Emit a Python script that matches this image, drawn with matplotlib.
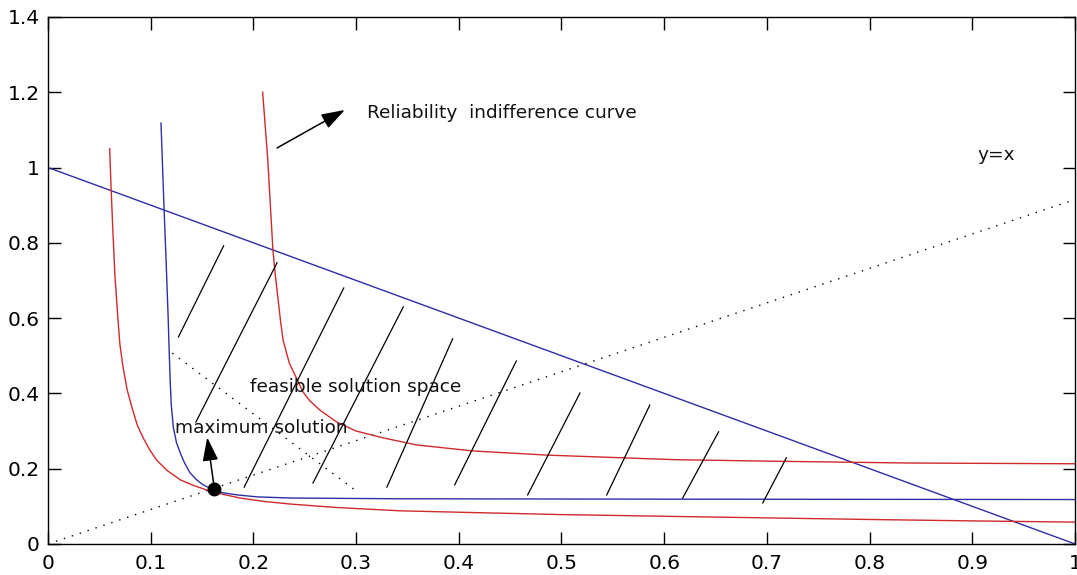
import matplotlib
matplotlib.use("Agg")
import matplotlib.pyplot as plt
from matplotlib.ticker import FuncFormatter

# straight budget line
budget_x = [0.0, 1.0]
budget_y = [1.0, 0.0]

# y = x reference (dotted)
diag_x = [0.0, 1.0]
diag_y = [0.0, 0.915]

# short descending dotted line
cross_x = [0.121, 0.299]
cross_y = [0.507, 0.143]

# left red indifference curve
red1_x = [0.060, 0.0615, 0.063, 0.065, 0.068, 0.070, 0.073, 0.077, 0.082,
          0.087, 0.093, 0.099, 0.106, 0.116, 0.129, 0.142, 0.155, 0.170,
          0.187, 0.210, 0.236, 0.280, 0.343, 0.420, 0.500, 0.635, 0.800,
          0.907, 1.000]
red1_y = [1.050, 0.940, 0.840, 0.720, 0.600, 0.530, 0.470, 0.410, 0.360,
          0.315, 0.280, 0.250, 0.222, 0.195, 0.170, 0.155, 0.143, 0.132,
          0.122, 0.113, 0.106, 0.097, 0.088, 0.083, 0.078, 0.072, 0.065,
          0.061, 0.058]

# blue curve
blue_x = [0.110, 0.113, 0.115, 0.117, 0.118, 0.119, 0.120, 0.122, 0.125,
          0.129, 0.133, 0.138, 0.144, 0.151, 0.160, 0.170, 0.185, 0.204,
          0.236, 0.343, 0.600, 1.000]
blue_y = [1.118, 0.890, 0.750, 0.600, 0.510, 0.430, 0.370, 0.310, 0.270,
          0.240, 0.215, 0.190, 0.172, 0.157, 0.145, 0.136, 0.130, 0.125,
          0.122, 0.120, 0.119, 0.118]

# right red indifference curve
red2_x = [0.209, 0.2115, 0.214, 0.2165, 0.219, 0.2215, 0.224, 0.2265, 0.229,
          0.235, 0.242, 0.248, 0.255, 0.265, 0.281, 0.300, 0.326, 0.359,
          0.414, 0.486, 0.609, 0.700, 0.839, 1.000]
red2_y = [1.200, 1.110, 1.020, 0.900, 0.780, 0.710, 0.650, 0.590, 0.540,
          0.480, 0.440, 0.405, 0.380, 0.355, 0.324, 0.300, 0.282, 0.263,
          0.247, 0.236, 0.224, 0.220, 0.215, 0.213]

# hatch segments of the feasible region (top end, bottom end)
hatch_x0 = [0.171, 0.223, 0.288, 0.346, 0.394, 0.456, 0.518, 0.586, 0.653, 0.719]
hatch_y0 = [0.792, 0.747, 0.680, 0.630, 0.545, 0.486, 0.401, 0.369, 0.298, 0.229]
hatch_x1 = [0.127, 0.144, 0.191, 0.258, 0.330, 0.396, 0.467, 0.544, 0.618, 0.696]
hatch_y1 = [0.550, 0.324, 0.151, 0.162, 0.151, 0.157, 0.130, 0.130, 0.122, 0.109]

opt_x, opt_y = 0.162, 0.146

x_ticks = [0, 0.1, 0.2, 0.3, 0.4, 0.5, 0.6, 0.7, 0.8, 0.9, 1.0]
y_ticks = [0, 0.2, 0.4, 0.6, 0.8, 1.0, 1.2, 1.4]

RED = "#d02a2a"
BLUE = "#2e2ea8"

plt.rcParams["font.family"] = ["DejaVu Sans"]

fig = plt.figure(figsize=(10.77, 5.75), dpi=100)
ax = fig.add_axes([0.0446, 0.054, 0.9535, 0.9165])

ax.plot(budget_x, budget_y, color=BLUE, lw=1.0)
ax.plot(diag_x, diag_y, color="k", lw=1.0, linestyle=(0, (1, 5)))
ax.plot(cross_x, cross_y, color="k", lw=1.0, linestyle=(0, (1, 5)))
ax.plot(red1_x, red1_y, color=RED, lw=1.0)
ax.plot(blue_x, blue_y, color=BLUE, lw=1.0)
ax.plot(red2_x, red2_y, color=RED, lw=1.0)

for xa, ya, xb, yb in zip(hatch_x0, hatch_y0, hatch_x1, hatch_y1):
    ax.plot([xa, xb], [ya, yb], color="k", lw=0.9)

ax.plot([opt_x], [opt_y], "o", color="k", markersize=9)

arrow = dict(arrowstyle="-|>,head_length=0.9,head_width=0.3",
             color="k", lw=1.1, mutation_scale=16, shrinkA=0, shrinkB=0)
ax.annotate("", xy=(0.155, 0.283), xytext=(opt_x, opt_y), arrowprops=arrow)
ax.annotate("", xy=(0.289, 1.153), xytext=(0.223, 1.052), arrowprops=arrow)

txt = dict(fontsize=13.3, color="#111111", va="center", ha="left")
ax.text(0.311, 1.145, "Reliability  indifference curve", **txt)
ax.text(0.197, 0.417, "feasible solution space", **txt)
ax.text(0.1237, 0.308, "maximum solution", **txt)
ax.text(0.905, 1.033, "y=x", **txt)

ax.set_xlim(0, 1)
ax.set_ylim(0, 1.4)
ax.set_xticks(x_ticks)
ax.set_yticks(y_ticks)
fmt = FuncFormatter(lambda v, p: "%g" % round(v, 2))
ax.xaxis.set_major_formatter(fmt)
ax.yaxis.set_major_formatter(fmt)
ax.tick_params(direction="in", length=9, width=1, top=True, right=True,
               labelsize=14.5, colors="k")
ax.tick_params(axis="x", pad=7)
ax.tick_params(axis="y", pad=6)
for s in ax.spines.values():
    s.set_linewidth(1.0)

fig.savefig("out.png", dpi=100)
